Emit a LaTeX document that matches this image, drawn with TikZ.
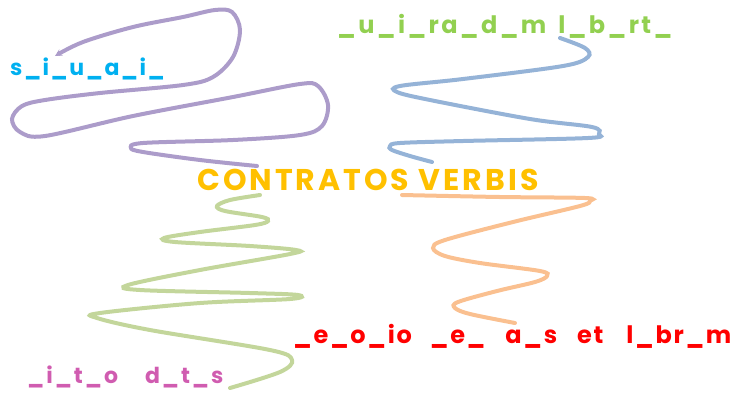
\documentclass[tikz,border=0pt]{standalone}
\usepackage{fontspec}
\setmainfont{Poppins}[BoldFont={Poppins Bold}]
\usetikzlibrary{arrows.meta}

\definecolor{txtblue}{RGB}{0,176,240}
\definecolor{txtgreen}{RGB}{146,208,80}
\definecolor{txtgold}{RGB}{255,192,0}
\definecolor{txtred}{RGB}{255,0,0}
\definecolor{txtpink}{RGB}{208,92,176}
\definecolor{wavepurple}{RGB}{172,156,202}
\definecolor{waveblue}{RGB}{149,179,215}
\definecolor{waveorange}{RGB}{250,192,144}
\definecolor{wavegreen}{RGB}{195,214,155}

\tikzset{
word/.style={font=\bfseries\fontsize{#1}{#1}\selectfont, anchor=base west, inner sep=0pt},
wave/.style={line width=4pt, line cap=round},
}

\begin{document}
\begin{tikzpicture}[x=1pt,y=-1pt]
\useasboundingbox (0,0) rectangle (743,392);
\foreach \n/\x/\y/\s/\l/\c/\t in {situ/10/75/22/7/txtblue/{s\_i\_u\_a\_i\_}, cumpri/337/33/24/10/txtgreen/{\_u\_i\_ra\_d\_m\hspace{12pt}l\_b\_rt\_}, title/197/190/30/10/txtgold/{CONTRATOS VERBIS}, tempo/293/343/24/7/txtred/{\_e\_o\_io\hspace{18pt}\_e\_\hspace{20pt}a\_s\hspace{20pt}et\hspace{23pt}l\_br\_m}, dito/27/383/22/9/txtpink/{\_i\_t\_o\hspace{27pt}d\_t\_s}}
{\node[word=\s, text=\c] (\n) at (\x,\y) {\addfontfeatures{LetterSpace=\l}\t};};
% connectors
\coordinate (pS) at (257,166);
\coordinate (pE) at (55,56);
\coordinate (bS) at (432,162);
\coordinate (bE) at (560,38);
\coordinate (oS) at (402,195);
\coordinate (oE) at (515,323);
\coordinate (gS) at (260,195);
\coordinate (gE) at (230,388);
\draw[wave, wavepurple, -{Stealth[length=7pt,width=7pt]}] plot[smooth, tension=0.55] coordinates {(pS) (200,160) (143,152) (131,148) (143,143) (233,140) (300,135) (322,126) (328,105) (318,86) (300,84) (233,97) (133,116) (45,136) (20,132) (12,119) (22,106) (45,100) (100,93) (183,85) (213,77) (233,57) (240,30) (232,12) (215,10) (183,17) (133,27) (83,42) (pE)};
\draw[wave, waveblue] plot[smooth, tension=0.55] coordinates {(bS) (410,156) (392,150) (390,146) (400,143) (463,141) (588,138) (599,134) (592,127) (530,119) (430,100) (397,92) (400,86) (463,79) (563,66) (588,57) (585,48) (bE)};
\draw[wave, waveorange] plot[smooth, tension=0.55] coordinates {(oS) (500,197) (585,198) (590,201) (580,206) (513,222) (445,240) (433,248) (445,256) (480,263) (540,271) (547,276) (535,282) (497,291) (458,302) (455,308) (470,314) (oE)};
\draw[wave, wavegreen] plot[smooth, tension=0.55] coordinates {(gS) (230,200) (217,206) (225,211) (262,217) (268,221) (255,225) (200,232) (164,238) (175,242) (250,246) (296,250) (290,254) (200,270) (128,285) (140,290) (250,293) (298,295) (290,299) (200,303) (100,313) (97,318) (150,330) (270,350) (292,360) (280,372) (gE)};
\end{tikzpicture}
\end{document}
